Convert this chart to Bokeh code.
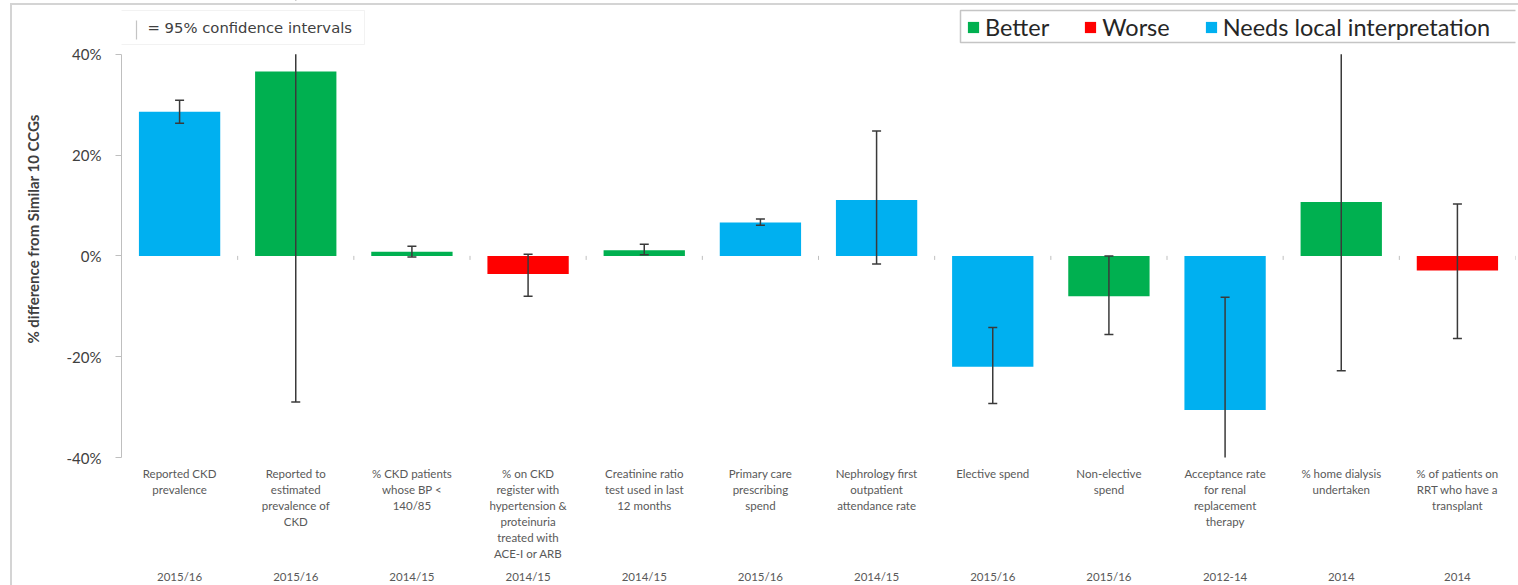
from bokeh.plotting import figure
from bokeh.models import (ColumnDataSource, CDSView, GroupFilter, Range1d, FixedTicker,
                          LinearAxis, Legend, LegendItem, BoxAnnotation, Label,
                          PrintfTickFormatter, InlineStyleSheet)
from bokeh.embed import file_html
from bokeh.resources import INLINE

# ---- data -------------------------------------------------------------
categories = [
    "Reported CKD\nprevalence",
    "Reported to\nestimated\nprevalence of\nCKD",
    "% CKD patients\nwhose BP <\n140/85",
    "% on CKD\nregister with\nhypertension &\nproteinuria\ntreated with\nACE-I or ARB",
    "Creatinine ratio\ntest used in last\n12 months",
    "Primary care\nprescribing\nspend",
    "Nephrology first\noutpatient\nattendance rate",
    "Elective spend",
    "Non-elective\nspend",
    "Acceptance rate\nfor renal\nreplacement\ntherapy",
    "% home dialysis\nundertaken",
    "% of patients on\nRRT who have a\ntransplant",
]
years = ["2015/16", "2015/16", "2014/15", "2014/15", "2014/15", "2015/16",
         "2014/15", "2015/16", "2015/16", "2012-14", "2014", "2014"]
values = [28.6, 36.6, 0.8, -3.6, 1.1, 6.6, 11.1, -22.0, -8.0, -30.6, 10.7, -2.9]
ci_low = [26.3, -29.0, -0.2, -8.0, 0.2, 6.1, -1.6, -29.3, -15.6, -53.0, -22.8, -16.4]
ci_high = [30.9, 102.0, 1.9, 0.3, 2.3, 7.3, 24.8, -14.2, 0.0, -8.2, 44.2, 10.3]
status = ["Needs local interpretation", "Better", "Better", "Worse", "Better",
          "Needs local interpretation", "Needs local interpretation",
          "Needs local interpretation", "Better", "Needs local interpretation",
          "Better", "Worse"]
groups = ["Better", "Worse", "Needs local interpretation"]
group_colors = ["#00B050", "#FF0000", "#00B0F0"]
y_ticks = [-40, -20, 0, 20, 40]

FONT = "Lato"
W, H = 1518, 585
LEFT = 121            # room for the y axis
BOTTOM = 126          # room for category and year labels
TOP_GAP = 54          # headroom above the 40% line for the keys
n = len(categories)
xs = [i + 0.5 for i in range(n)]
y_min, y_max = min(y_ticks), max(y_ticks)
frame_h = H - BOTTOM
px_per_unit = (frame_h - TOP_GAP) / (y_max - y_min)
y_top = y_max + TOP_GAP / px_per_unit


def fy(top_px):
    """screen offset (measured down from the top of the page) -> frame units"""
    return frame_h - top_px


def fx(left_px):
    return left_px - LEFT


src = ColumnDataSource(dict(x=xs, value=values, lo=ci_low, hi=ci_high, status=status))

p = figure(width=W, height=H, output_backend="svg", toolbar_location=None,
           x_range=Range1d(0, n), y_range=Range1d(y_min, y_top),
           x_axis_type=None, y_axis_type=None,
           min_border_left=LEFT, min_border_right=3, min_border_top=0,
           min_border_bottom=BOTTOM)
p.outline_line_color = None
p.background_fill_color = "white"
p.border_fill_color = "white"

# light border round the whole chart area
p.stylesheets = [InlineStyleSheet(css="""
:host { position: relative; }
:host::after { content: ''; position: absolute; left: 10px; top: 3px; right: 0; bottom: 0;
               border-left: 2px solid #D4D4D4; border-top: 2px solid #D4D4D4;
               z-index: 5; pointer-events: none; }
""")]

# y axis
yax = LinearAxis(ticker=FixedTicker(ticks=y_ticks), bounds=(y_min, y_max),
                 formatter=PrintfTickFormatter(format="%d%%"))
yax.axis_line_color = "#BFBFBF"
yax.major_tick_line_color = "#BFBFBF"
yax.major_tick_out = 6
yax.major_tick_in = 0
yax.minor_tick_line_color = None
yax.major_label_text_font = FONT
yax.major_label_text_font_size = "15px"
yax.major_label_text_color = "#404040"
yax.major_label_standoff = 14
yax.axis_label = "% difference from Similar 10 CCGs"
yax.axis_label_text_font = FONT
yax.axis_label_text_font_size = "15px"
yax.axis_label_text_font_style = "bold"
yax.axis_label_text_color = "#404040"
yax.axis_label_standoff = 22
p.add_layout(yax, "left")
p.ygrid.ticker = FixedTicker(ticks=y_ticks)
p.ygrid.grid_line_color = "#C8C8C8"
p.ygrid.grid_line_width = 1.2

# category labels and years below the plot
cat_ax = LinearAxis(ticker=FixedTicker(ticks=xs),
                    major_label_overrides={x: c for x, c in zip(xs, categories)})
year_ax = LinearAxis(ticker=FixedTicker(ticks=xs),
                     major_label_overrides={x: yr for x, yr in zip(xs, years)})
for ax, stand in ((cat_ax, 9), (year_ax, 6)):
    ax.axis_line_color = None
    ax.major_tick_line_color = None
    ax.minor_tick_line_color = None
    ax.major_tick_out = 0
    ax.major_tick_in = 0
    ax.major_label_standoff = stand
    ax.major_label_text_font = FONT
    ax.major_label_text_font_size = "11.5px"
    ax.major_label_text_color = "#595959"
    ax.major_label_text_line_height = 1.24
    p.add_layout(ax, "below")

# small ticks between categories on the zero line
bounds = list(range(n + 1))
p.segment(x0=bounds, x1=bounds, y0=[0] * len(bounds), y1=[-0.8] * len(bounds),
          line_color="#BFBFBF", line_width=1)

# bars, one renderer per group for the legend
items = []
for g, col in zip(groups, group_colors):
    view = CDSView(filter=GroupFilter(column_name="status", group=g))
    r = p.vbar(x="x", top="value", bottom=0, width=0.7, source=src, view=view,
               fill_color=col, line_color=None)
    items.append(LegendItem(label=g, renderers=[r]))

# 95% confidence intervals
ERR = "#3A3A3A"
p.segment(x0="x", x1="x", y0="lo", y1="hi", source=src, line_color=ERR, line_width=1.5)
p.scatter(x="x", y="lo", source=src, marker="dash", size=9, line_color=ERR, line_width=1.5)
p.scatter(x="x", y="hi", source=src, marker="dash", size=9, line_color=ERR, line_width=1.5)

# whiskers stop at the 40% line: blank out the headroom above it
p.add_layout(BoxAnnotation(bottom=y_max, top=y_top + 10, fill_color="white",
                           fill_alpha=1, line_color=None, level="overlay"))

# key for the confidence interval whiskers
p.add_layout(BoxAnnotation(left=fx(120), right=fx(364), bottom=fy(46), top=fy(12),
                           left_units="screen", right_units="screen",
                           bottom_units="screen", top_units="screen",
                           fill_color="white", fill_alpha=1, line_color="#D4D4D4",
                           line_width=1, level="overlay"))
p.add_layout(BoxAnnotation(left=fx(136), right=fx(136), bottom=fy(41), top=fy(22),
                           left_units="screen", right_units="screen",
                           bottom_units="screen", top_units="screen",
                           fill_alpha=0, line_color=ERR, line_width=1.2, level="overlay"))
p.add_layout(Label(x=fx(147), y=fy(29), x_units="screen", y_units="screen",
                   text="= 95% confidence intervals", text_font="DejaVu Sans",
                   text_font_size="14.8px", text_color="#404040",
                   text_baseline="middle", level="overlay"))

# status legend in a dark frame
p.add_layout(BoxAnnotation(left=fx(960), right=fx(1517), bottom=fy(44), top=fy(12),
                           left_units="screen", right_units="screen",
                           bottom_units="screen", top_units="screen",
                           fill_color="white", fill_alpha=1, line_color="#404040",
                           line_width=1.5, level="overlay"))
legend = Legend(items=items, location=(fx(966), fy(43)), orientation="horizontal")
legend.border_line_color = None
legend.background_fill_alpha = 0
legend.label_text_font = FONT
legend.label_text_font_size = "23.5px"
legend.label_text_color = "#262626"
legend.glyph_width = 14
legend.glyph_height = 14
legend.label_standoff = 5
legend.spacing = 34
legend.padding = 2
legend.margin = 0
p.add_layout(legend, "center")

open("out.html", "w").write(file_html(p, INLINE))
